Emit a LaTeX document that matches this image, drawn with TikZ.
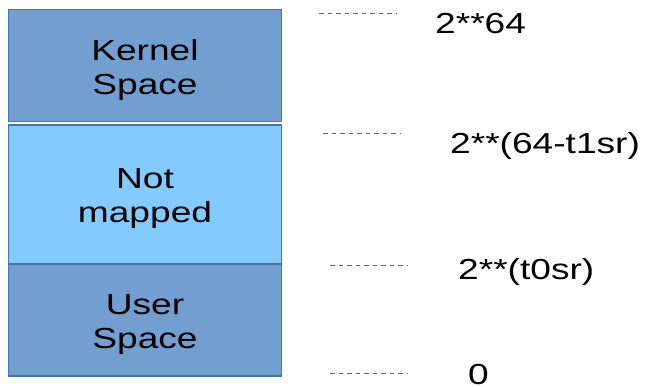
\documentclass[tikz,border=0pt]{standalone}
\usepackage{fontspec}
\setmainfont{Liberation Sans}[FakeStretch=1.28]
\begin{document}
\begin{tikzpicture}[x=1pt,y=-1pt,
  region/.style={draw=regionedge, line width=1.1pt, minimum width=273.4pt, inner sep=0pt},
  regiontext/.style={align=center, inner sep=0pt, font=\fontsize{29}{34}\selectfont},
  addr/.style={anchor=base west, inner sep=0pt, font=\fontsize{29}{34}\selectfont},
  tick/.style={draw=gray!80!black, line width=0.8pt, dash pattern=on 4.5pt off 4pt}]
\definecolor{regionedge}{HTML}{4A74AE}
\definecolor{spacefill}{HTML}{729FCF}
\definecolor{nmfill}{HTML}{83CAFF}
\useasboundingbox (0,0) rectangle (646,387);
\node[region, fill=spacefill, minimum height=112.4pt] (kernel) at (145,65.5) {};
\node[region, fill=nmfill, minimum height=139pt] (notmapped) at (145,194.5) {};
\node[region, fill=spacefill, minimum height=112pt] (user) at (145,320) {};
\node[regiontext] (kerneltxt) at ([yshift=-4.5pt]kernel.center) {Kernel\\Space};
\node[regiontext] (notmappedtxt) at ([yshift=-4.5pt]notmapped.center) {Not\\mapped};
\node[regiontext] (usertxt) at ([yshift=-4.5pt]user.center) {User\\Space};
\node[addr] (a64) at (435,34) {2**64};
\node[addr] (a1) at (450,154) {2**(64-t1sr)};
\node[addr] (a0) at (458,280) {2**(t0sr)};
\node[addr] (azero) at (468,385) {0};
\coordinate (t1a) at (319,13); \coordinate (t1b) at (396,13);
\coordinate (t2a) at (323,133); \coordinate (t2b) at (400,133);
\coordinate (t3a) at (330,265); \coordinate (t3b) at (407,265);
\coordinate (t4a) at (330,373); \coordinate (t4b) at (407,373);
\draw[tick] (t1a) -- (t1b);
\draw[tick] (t2a) -- (t2b);
\draw[tick] (t3a) -- (t3b);
\draw[tick] (t4a) -- (t4b);
\end{tikzpicture}
\end{document}
